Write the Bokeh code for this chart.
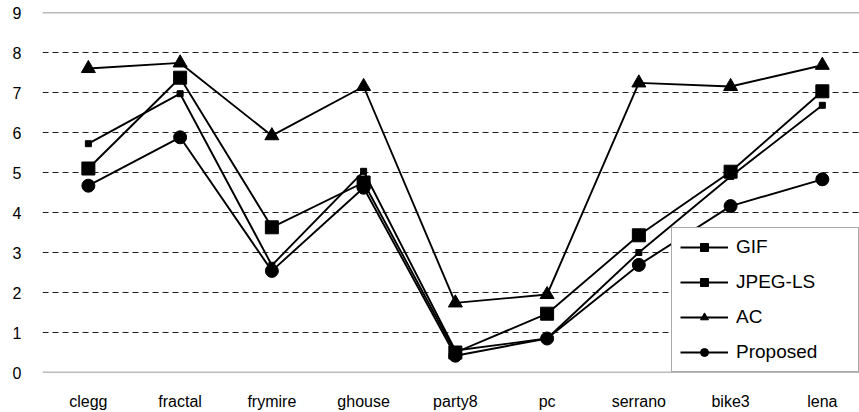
from bokeh.plotting import figure
from bokeh.models import FixedTicker, Span, Legend, LegendItem
from bokeh.embed import file_html
from bokeh.resources import INLINE

categories = ["clegg", "fractal", "frymire", "ghouse", "party8", "pc", "serrano", "bike3", "lena"]
gif = [5.72, 6.97, 2.68, 5.03, 0.55, 0.85, 3.0, 4.9, 6.68]
jpeg_ls = [5.1, 7.37, 3.63, 4.75, 0.5, 1.47, 3.43, 5.02, 7.03]
ac = [7.6, 7.74, 5.92, 7.15, 1.74, 1.95, 7.24, 7.15, 7.68]
proposed = [4.67, 5.88, 2.54, 4.62, 0.42, 0.85, 2.69, 4.16, 4.83]
y_ticks = [0, 1, 2, 3, 4, 5, 6, 7, 8, 9]

x = list(range(len(categories)))
FONT = "Liberation Sans"

p = figure(width=859, height=412, output_backend="svg", toolbar_location=None,
           x_range=(-0.5, 8.405), y_range=(0, 9),
           min_border_left=42, min_border_right=0, min_border_top=12, min_border_bottom=38)
p.outline_line_color = None
p.background_fill_color = "white"

# axes
p.xaxis.ticker = FixedTicker(ticks=x)
p.xaxis.major_label_overrides = {i: c for i, c in enumerate(categories)}
p.yaxis.ticker = FixedTicker(ticks=y_ticks)
for ax in (p.xaxis[0], p.yaxis[0]):
    ax.axis_line_color = None
    ax.major_tick_line_color = None
    ax.minor_tick_line_color = None
    ax.major_tick_out = 0
    ax.major_tick_in = 0
    ax.major_label_text_font = FONT
    ax.major_label_text_color = "black"
p.xaxis.major_label_text_font_size = "16px"
p.xaxis.major_label_standoff = 20
p.yaxis.major_label_text_font_size = "16px"
p.yaxis.major_label_standoff = 21

# grid
p.xgrid.grid_line_color = None
p.ygrid.ticker = FixedTicker(ticks=y_ticks[1:-1])
p.ygrid.grid_line_color = "#222222"
p.ygrid.grid_line_dash = "6 4"
p.ygrid.grid_line_width = 1.2
for v in (y_ticks[0], y_ticks[-1]):
    p.add_layout(Span(location=v, dimension="width", line_color="#777777", line_width=1.5))

LW = 1.9
r_gif_l = p.line(x, gif, line_color="black", line_width=LW)
r_gif_m = p.scatter(x, gif, marker="square", size=6, color="black")
r_jp_l = p.line(x, jpeg_ls, line_color="black", line_width=LW)
r_jp_m = p.scatter(x, jpeg_ls, marker="square", size=13, color="black")
r_ac_l = p.line(x, ac, line_color="black", line_width=LW)
r_ac_m = p.scatter(x, ac, marker="triangle", size=14, color="black")
r_pr_l = p.line(x, proposed, line_color="black", line_width=LW)
r_pr_m = p.scatter(x, proposed, marker="circle", size=13, color="black")

legend = Legend(items=[
    LegendItem(label="GIF", renderers=[r_gif_l, r_gif_m]),
    LegendItem(label="JPEG-LS", renderers=[r_jp_l, r_jp_m]),
    LegendItem(label="AC", renderers=[r_ac_l, r_ac_m]),
    LegendItem(label="Proposed", renderers=[r_pr_l, r_pr_m]),
], location="bottom_right")
legend.margin = 0
legend.padding = 8
legend.spacing = 13
legend.glyph_height = 20
legend.glyph_width = 48
legend.label_height = 20
legend.label_width = 114
legend.label_standoff = 8
legend.label_text_font = FONT
legend.label_text_font_size = "19px"
legend.label_text_color = "black"
legend.border_line_color = "#555555"
legend.border_line_width = 1.2
legend.background_fill_color = "white"
legend.background_fill_alpha = 1.0
p.add_layout(legend)

open("out.html", "w").write(file_html(p, INLINE))
